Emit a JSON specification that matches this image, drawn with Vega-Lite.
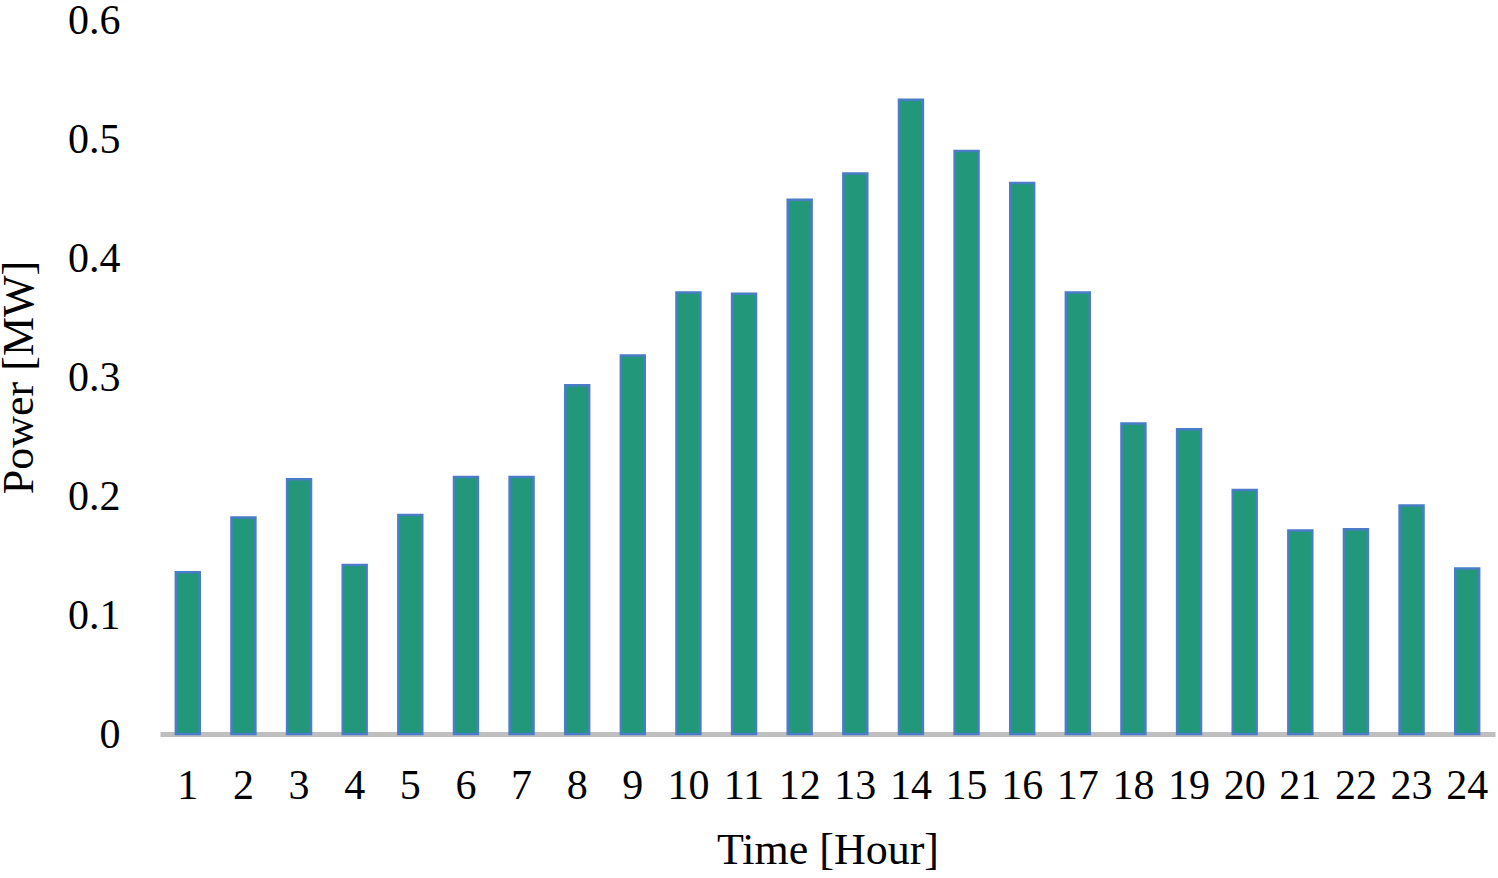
{
  "$schema": "https://vega.github.io/schema/vega-lite/v6.json",
  "autosize": "none",
  "width": 1335,
  "height": 714,
  "padding": {"left": 160, "top": 20, "right": 3, "bottom": 144},
  "background": "white",
  "config": {
    "view": {"stroke": null},
    "font": "Liberation Serif",
    "axis": {"labelFont": "Liberation Serif", "titleFont": "Liberation Serif", "labelColor": "#000000", "titleColor": "#000000", "titleFontWeight": "normal", "grid": false, "ticks": false}
  },
  "data": {
    "values": [
      {"hour": 1, "power": 0.136},
      {"hour": 2, "power": 0.182},
      {"hour": 3, "power": 0.214},
      {"hour": 4, "power": 0.142},
      {"hour": 5, "power": 0.184},
      {"hour": 6, "power": 0.216},
      {"hour": 7, "power": 0.216},
      {"hour": 8, "power": 0.293},
      {"hour": 9, "power": 0.318},
      {"hour": 10, "power": 0.371},
      {"hour": 11, "power": 0.370},
      {"hour": 12, "power": 0.449},
      {"hour": 13, "power": 0.471},
      {"hour": 14, "power": 0.533},
      {"hour": 15, "power": 0.490},
      {"hour": 16, "power": 0.463},
      {"hour": 17, "power": 0.371},
      {"hour": 18, "power": 0.261},
      {"hour": 19, "power": 0.256},
      {"hour": 20, "power": 0.205},
      {"hour": 21, "power": 0.171},
      {"hour": 22, "power": 0.172},
      {"hour": 23, "power": 0.192},
      {"hour": 24, "power": 0.139}
    ]
  },
  "mark": {"type": "bar", "fill": "#22977a", "stroke": "#4a7cc8", "strokeWidth": 2.5},
  "encoding": {
    "x": {
      "field": "hour",
      "type": "ordinal",
      "sort": "ascending",
      "scale": {"paddingInner": 0.57, "paddingOuter": 0.285},
      "axis": {
        "title": "Time [Hour]",
        "labelAngle": 0,
        "labelFontSize": 42,
        "labelPadding": 31,
        "titleFontSize": 44,
        "titlePadding": 22,
        "domainColor": "#bfbfbf",
        "domainWidth": 5
      }
    },
    "y": {
      "field": "power",
      "type": "quantitative",
      "scale": {"domain": [0, 0.6], "nice": false},
      "axis": {
        "title": "Power [MW]",
        "values": [0, 0.1, 0.2, 0.3, 0.4, 0.5, 0.6],
        "labelExpr": "datum.value == 0 ? '0' : format(datum.value, '.1f')",
        "labelFontSize": 42,
        "labelPadding": 40,
        "titleFontSize": 44,
        "titlePadding": 26,
        "domain": false
      }
    }
  }
}
